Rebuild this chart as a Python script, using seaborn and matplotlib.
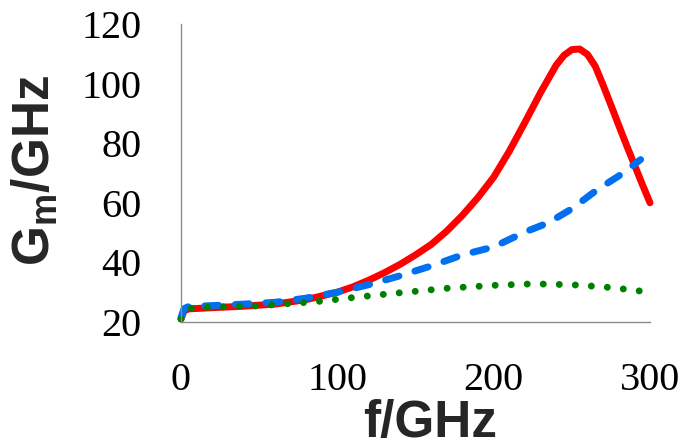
import matplotlib
matplotlib.use("Agg")
import matplotlib.pyplot as plt
import seaborn as sns
import pandas as pd

# ---- data ----
f_red = [0, 2, 5, 20, 40, 60, 80, 100, 110, 120, 130, 140, 150, 160, 170, 180, 190,
         200, 210, 220, 230, 240, 245, 250, 255, 260, 265, 270, 275, 280, 285, 290,
         295, 300]
g_red = [21.0, 23.8, 24.4, 24.8, 25.3, 26.0, 27.5, 30.0, 31.8, 34.0, 36.5, 39.3,
         42.5, 46.0, 50.5, 55.8, 61.8, 68.6, 77.3, 87.0, 97.0, 106.2, 109.5, 111.4,
         111.6, 109.8, 105.8, 99.5, 92.8, 86.0, 79.3, 72.8, 66.3, 60.0]

f_blue = [0, 2, 5, 20, 40, 60, 80, 100, 120, 140, 160, 180, 200, 220, 235, 250,
          266, 280, 294]
g_blue = [21.5, 24.5, 25.2, 25.5, 26.0, 26.6, 28.0, 30.0, 32.5, 35.5, 38.8, 42.5,
          45.2, 50.2, 53.3, 58.0, 64.3, 69.0, 74.5]

f_green = [0, 2, 7, 20, 49, 70, 90, 110, 132, 150, 172, 200, 225, 250, 270, 290, 298]
g_green = [21.0, 23.5, 24.7, 25.0, 25.4, 26.2, 27.0, 28.2, 29.4, 30.3, 31.4, 32.3,
           32.8, 32.5, 31.8, 30.7, 30.0]

x_ticks = [0, 100, 200, 300]
y_ticks = [20, 40, 60, 80, 100, 120]
x_label = "f/GHz"
y_label = r"$\mathbf{G_m}$/GHz"

# ---- style ----
sns.set_style("white")
plt.rcParams["font.family"] = ["Liberation Serif", "DejaVu Serif"]
plt.rcParams["mathtext.fontset"] = "custom"
plt.rcParams["mathtext.bf"] = "Liberation Sans:bold"
plt.rcParams["mathtext.rm"] = "Liberation Sans"

fig = plt.figure(figsize=(6.85, 4.47), dpi=100)
ax = fig.add_axes([181 / 685, 1 - 322 / 447, 469 / 685, 298 / 447])

LW = 5.0
df_r = pd.DataFrame({"f": f_red, "G": g_red})
df_b = pd.DataFrame({"f": f_blue, "G": g_blue})
df_g = pd.DataFrame({"f": f_green, "G": g_green})

sns.lineplot(data=df_r, x="f", y="G", ax=ax, color="#FF0000", linewidth=LW,
             errorbar=None, sort=False, estimator=None, clip_on=False,
             solid_capstyle="round", solid_joinstyle="round")
sns.lineplot(data=df_b, x="f", y="G", ax=ax, color="#0070F0", linewidth=LW,
             errorbar=None, sort=False, estimator=None, clip_on=False,
             linestyle=(0, (2.0, 2.4)), dash_capstyle="round",
             dash_joinstyle="round")
sns.lineplot(data=df_g, x="f", y="G", ax=ax, color="#008000", linewidth=LW,
             errorbar=None, sort=False, estimator=None, clip_on=False,
             linestyle=(0, (0.01, 2.3)), dash_capstyle="round")

ax.set_xlim(0, 300)
ax.set_ylim(20, 120)
ax.set_xticks(x_ticks)
ax.set_yticks(y_ticks)

for s in ["top", "right"]:
    ax.spines[s].set_visible(False)
for s in ["left", "bottom"]:
    ax.spines[s].set_color("#8C8C8C")
    ax.spines[s].set_linewidth(1.0)

ax.tick_params(axis="both", direction="out", length=10, width=1.0,
               color="#8C8C8C", labelsize=29, pad=18.5, labelcolor="black")

ax.set_xlabel(x_label, fontsize=37, fontweight="bold", family="Liberation Sans",
              va="baseline")
ax.xaxis.set_label_coords(0.532, -0.386)
ax.set_ylabel(y_label, fontsize=37, fontweight="bold", family="Liberation Sans",
              va="center")
ax.yaxis.set_label_coords(-0.311, 0.507)

fig.savefig("out.png", dpi=100)
